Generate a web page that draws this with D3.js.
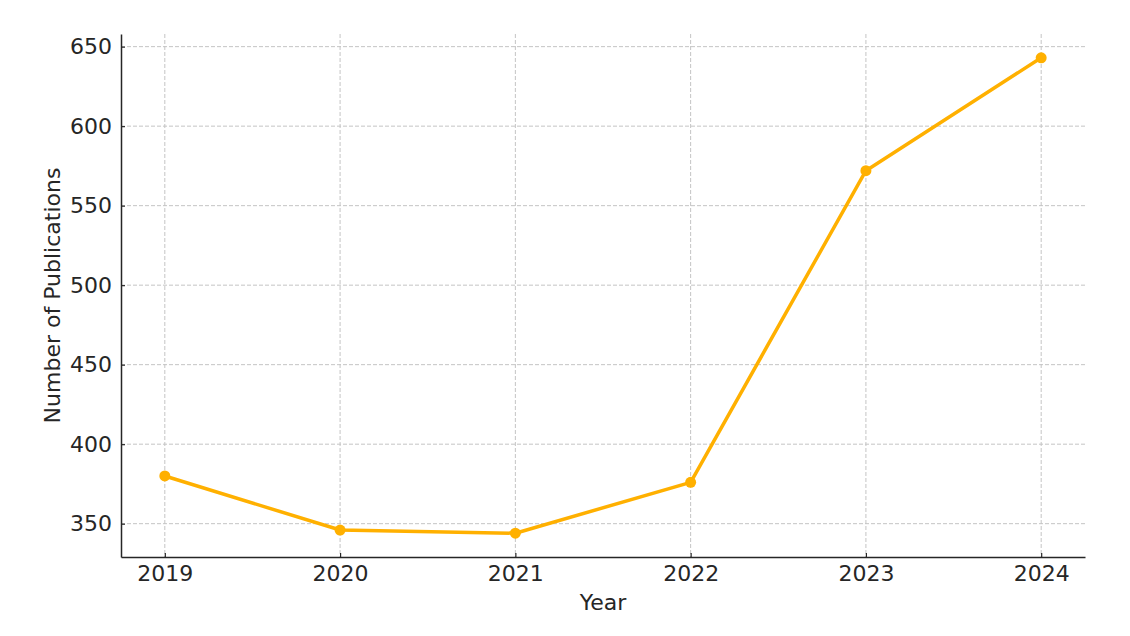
<!DOCTYPE html>
<html><head><meta charset="utf-8">
<script src="https://cdn.jsdelivr.net/npm/d3@7"></script>
<style>body{margin:0;background:#fff}svg{display:block;font-family:"DejaVu Sans",sans-serif}</style>
</head><body>
<svg id="c" width="1130" height="636"></svg>
<script>
const years = [2019, 2020, 2021, 2022, 2023, 2024];
const publications = [380, 346, 344, 376, 572, 643];
const yTicks = [350, 400, 450, 500, 550, 600, 650];

const svg = d3.select("#c");
const L = 121, R = 1085, T = 34, B = 557;
const x = d3.scaleLinear().domain([2018.75, 2024.25]).range([L, R]);
const y = d3.scaleLinear().domain([329.05, 657.95]).range([B, T]);
const textCol = "#262626";
const FS = 22;

// grid
const g = svg.append("g");
g.selectAll(".gx").data(years).join("line")
  .attr("x1", d => x(d)).attr("x2", d => x(d)).attr("y1", T).attr("y2", B)
  .attr("stroke", "#c4c4c4").attr("stroke-width", 1).attr("stroke-dasharray", "4,2");
g.selectAll(".gy").data(yTicks).join("line")
  .attr("x1", L).attr("x2", R).attr("y1", d => y(d)).attr("y2", d => y(d))
  .attr("stroke", "#c4c4c4").attr("stroke-width", 1).attr("stroke-dasharray", "4,2");

// axes
const xAxis = d3.axisBottom(x).tickValues(years).tickFormat(d3.format("d")).tickSizeInner(-4).tickSizeOuter(0).tickPadding(8);
const yAxis = d3.axisLeft(y).tickValues(yTicks).tickSizeInner(-4).tickSizeOuter(0).tickPadding(9);
const ax = svg.append("g").attr("transform", `translate(0,${B})`).call(xAxis);
const ay = svg.append("g").attr("transform", `translate(${L},0)`).call(yAxis);
[ax, ay].forEach(a => {
  a.attr("font-size", FS).attr("font-family", "DejaVu Sans");
  a.select(".domain").attr("stroke", textCol).attr("stroke-width", 1.5);
  a.selectAll(".tick line").attr("stroke", textCol).attr("stroke-width", 1.2);
  a.selectAll("text").attr("fill", textCol).style("font-size", FS + "px");
});

// line
const line = d3.line().x((d, i) => x(years[i])).y(d => y(d));
svg.append("path").datum(publications).attr("d", line)
  .attr("fill", "none").attr("stroke", "#FFB000").attr("stroke-width", 3.5).attr("stroke-linejoin", "round");
svg.selectAll(".pt").data(publications).join("circle")
  .attr("cx", (d, i) => x(years[i])).attr("cy", d => y(d)).attr("r", 5.5).attr("fill", "#FFB000");

// labels
svg.append("text").attr("x", (L + R) / 2).attr("y", 610).attr("text-anchor", "middle")
  .style("font-size", FS + "px").attr("fill", textCol).text("Year");
svg.append("text").attr("transform", `translate(60,${(T + B) / 2}) rotate(-90)`).attr("text-anchor", "middle")
  .style("font-size", FS + "px").attr("fill", textCol).text("Number of Publications");
</script>
</body></html>
